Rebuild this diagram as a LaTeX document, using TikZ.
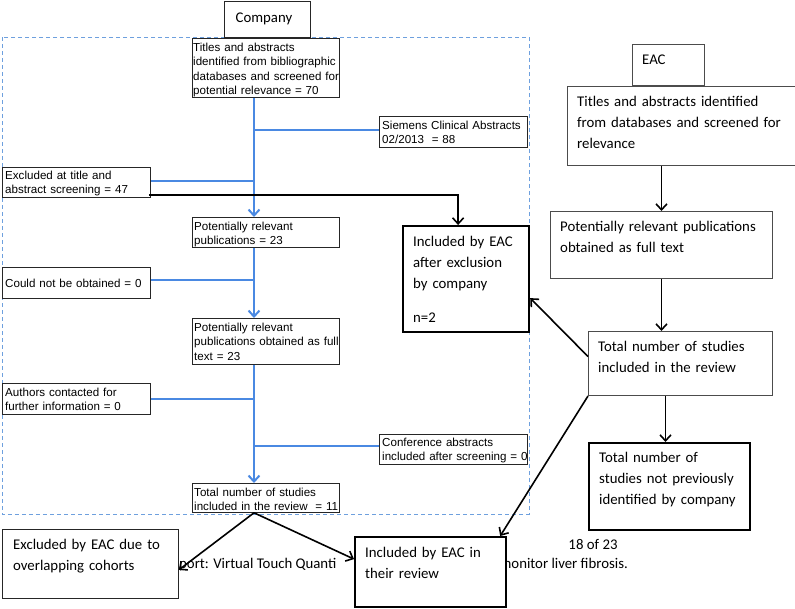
\documentclass[tikz,border=0pt]{standalone}
\usepackage{fontspec}
\setmainfont{Carlito}
\newfontfamily\arialf{Liberation Sans}
\usetikzlibrary{arrows.meta,calc}
\definecolor{flowblue}{RGB}{74,137,226}
\definecolor{dashblue}{RGB}{110,160,222}
\begin{document}
\begin{tikzpicture}[x=1pt,y=-1pt,
  boxbase/.style={anchor=north west, inner sep=0pt, fill=white},
  thinbox/.style={boxbase, draw=black!85, line width=0.8pt},
  greybox/.style={boxbase, draw=black!70, line width=1pt},
  thickbox/.style={boxbase, draw=black, line width=2.2pt},
  arialtxt/.style={anchor=base west, inner sep=0pt, text width=200pt, align=left,
     font=\arialf\fontsize{11.6}{14.5}\selectfont},
  calitxt/.style={anchor=base west, inner sep=0pt, text width=220pt, align=left,
     font=\fontsize{14.8}{21.3}\selectfont},
  foottxt/.style={inner sep=0pt, font=\fontsize{14.8}{18}\selectfont},
  bluline/.style={draw=flowblue, line width=2pt},
  bluarrow/.style={bluline, -{Straight Barb[length=6pt,width=11pt,line width=2pt]}},
  blkline/.style={draw=black, line width=1.6pt},
  blkarrow/.style={blkline, -{Straight Barb[length=6pt,width=11pt,line width=1.6pt]}}
]
\useasboundingbox (0,0) rectangle (795,608);
\fill[white] (0,0) rectangle (795,608);

% page footer (visible parts, behind the boxes)
\node[foottxt, anchor=base] (pg) at (593,549) {18 of 23};
\node[foottxt, anchor=base west] (foota) at (179,568) {port: Virtual Touch Quanti};
\node[foottxt, anchor=base east] (footb) at (628,568) {monitor liver fibrosis.};

% dashed company frame
\draw[dashblue, line width=1pt, dash pattern=on 4pt off 3pt] (2,37) rectangle (529,514);

% Company column
\node[thinbox, minimum width=86pt, minimum height=36pt] (comp) at (224,1) {};
\node[anchor=base, inner sep=0pt, font=\fontsize{14.8}{18}\selectfont] (compl) at (264,22) {Company};

\coordinate (spine) at (254,0);

\node[thinbox, minimum width=147pt, minimum height=59pt] (t1) at (192,38) {};
\node[arialtxt] (t1l) at (193,51) {Titles and abstracts\\identified from bibliographic\\databases and screened for\\potential relevance = 70};

\node[thinbox, minimum width=148pt, minimum height=31pt] (sie) at (379,116) {};
\node[arialtxt] (siel) at (382,129) {Siemens Clinical Abstracts\\02/2013~~= 88};

\node[thinbox, minimum width=148pt, minimum height=30pt] (ex1) at (2,167) {};
\node[arialtxt] (ex1l) at (5,179) {Excluded at title and\\abstract screening = 47};

\node[thinbox, minimum width=147pt, minimum height=30pt] (p1) at (192,217) {};
\node[arialtxt] (p1l) at (194,230) {Potentially relevant\\publications = 23};

\node[thinbox, minimum width=148pt, minimum height=31pt] (cno) at (2,267) {};
\node[arialtxt] (cnol) at (5,287) {Could not be obtained = 0};

\node[thinbox, minimum width=147pt, minimum height=46pt] (p2) at (192,318) {};
\node[arialtxt] (p2l) at (194,331) {Potentially relevant\\publications obtained as full\\text = 23};

\node[thinbox, minimum width=148pt, minimum height=31pt] (auth) at (2,383) {};
\node[arialtxt] (authl) at (5,396) {Authors contacted for\\further information = 0};

\node[thinbox, minimum width=148pt, minimum height=30pt] (conf) at (379,434) {};
\node[arialtxt] (confl) at (382,446) {Conference abstracts\\included after screening = 0};

\node[thinbox, minimum width=147pt, minimum height=29pt] (ct) at (192,483) {};
\node[arialtxt] (ctl) at (194,496) {Total number of studies\\included in the review~~= 11};

% blue flow
\draw[bluarrow] (t1.south -| spine) -- (p1.north -| spine);
\draw[bluline] ([yshift=1.5pt]sie.west) -- ([yshift=1.5pt]sie.west -| spine);
\draw[bluline] ([yshift=1pt]ex1.east) -- ([yshift=1pt]ex1.east -| spine);
\draw[bluarrow] (p1.south -| spine) -- (p2.north -| spine);
\draw[bluline] ([yshift=2.5pt]cno.east) -- ([yshift=2.5pt]cno.east -| spine);
\draw[bluarrow] (p2.south -| spine) -- (ct.north -| spine);
\draw[bluline] (auth.east) -- (auth.east -| spine);
\draw[bluline] ([yshift=3pt]conf.west) -- ([yshift=3pt]conf.west -| spine);

% EAC column
\node[greybox, minimum width=72pt, minimum height=41pt] (eac) at (632,44) {};
\node[anchor=base west, inner sep=0pt, font=\fontsize{14.8}{18}\selectfont] (eacl) at (642,64) {EAC};

\node[greybox, minimum width=228pt, minimum height=79pt] (e1) at (567,86) {};
\node[calitxt] (e1l) at (577,106) {Titles and abstracts identified\\from databases and screened for\\relevance};

\node[greybox, minimum width=222pt, minimum height=67pt] (e2) at (550,211) {};
\node[calitxt] (e2l) at (560,231) {Potentially relevant publications\\obtained as full text};

\node[greybox, minimum width=184pt, minimum height=64pt] (e3) at (588,331) {};
\node[calitxt] (e3l) at (598,351) {Total number of studies\\included in the review};

\node[thickbox, minimum width=161pt, minimum height=87pt] (e4) at (588,442) {};
\node[calitxt] (e4l) at (599,462) {Total number of\\studies not previously\\identified by company};

\node[thickbox, minimum width=126pt, minimum height=106pt] (exc2) at (402,225) {};
\node[calitxt] (exc2l) at (413,246) {Included by EAC\\after exclusion\\by company\\[13pt]n=2};

\node[thinbox, minimum width=176pt, minimum height=69pt] (exeac) at (2,529) {};
\node[calitxt] (exeacl) at (13,549) {Excluded by EAC due to\\overlapping cohorts};

\node[thickbox, minimum width=151pt, minimum height=70pt] (inc) at (354,536) {};
\node[calitxt] (incl) at (365,557) {Included by EAC in\\their review};

% black connectors
\draw[blkarrow] ($(ex1.south east)+(-2,-3)$) -| ([xshift=-8pt]exc2.north);
\draw[blkarrow] (e1.south -| e2.north) -- (e2.north);
\draw[blkarrow] (e2.south) -- (e3.north -| e2.south);
\draw[blkarrow] ([xshift=-15pt]e3.south) -- ([xshift=-15pt]e3.south |- e4.north);
\draw[blkarrow] ([yshift=7pt]e3.west) -- ([yshift=-19pt]exc2.east);
\draw[blkarrow] (e3.south west) -- ([xshift=-7pt]inc.north east);
\draw[blkarrow] (ct.south -| spine) -- ([yshift=-6pt]exeac.east);
\draw[blkarrow] (ct.south -| spine) -- ([yshift=13pt]inc.west);
\end{tikzpicture}
\end{document}
